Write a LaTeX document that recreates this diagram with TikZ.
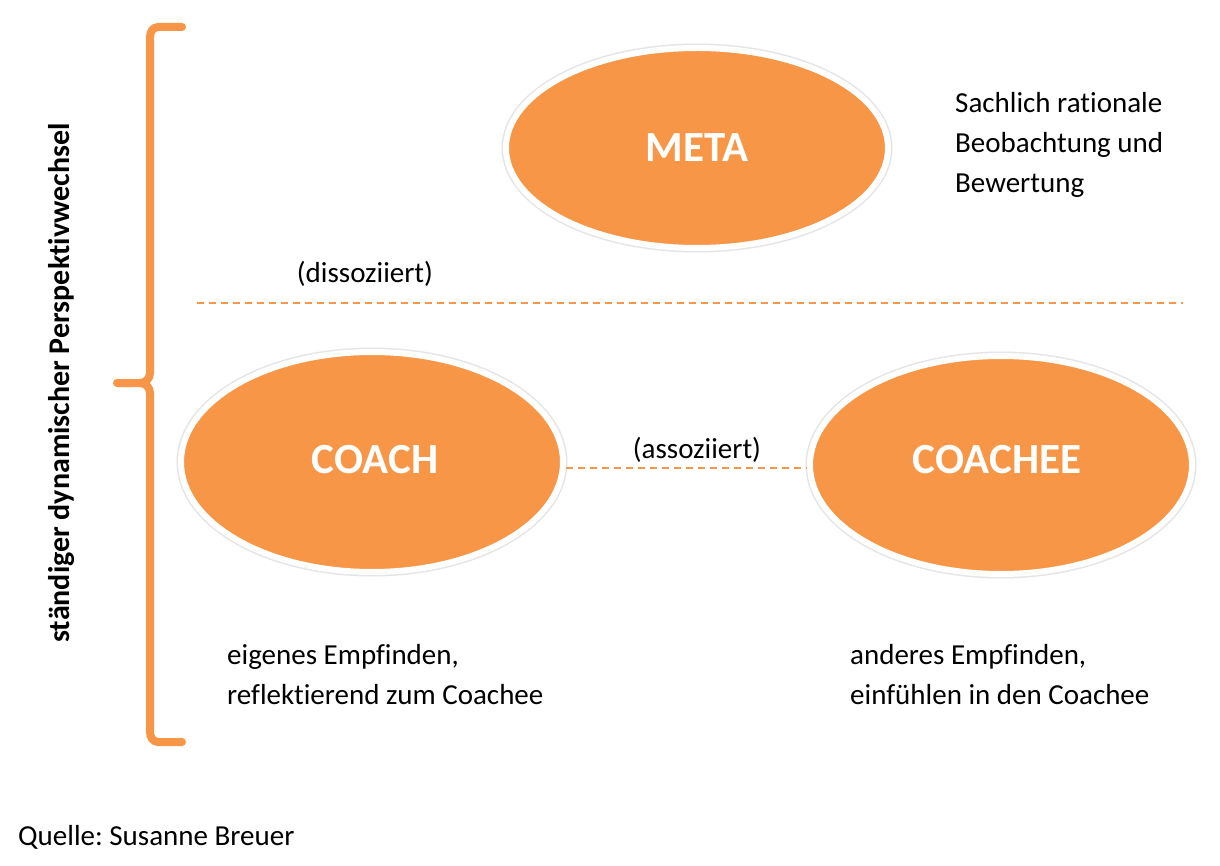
\documentclass[tikz,border=0pt]{standalone}
\usepackage{fontspec}
\setmainfont{Carlito}[Ligatures=NoCommon]
\frenchspacing
\usetikzlibrary{shadows,shapes.geometric}
\definecolor{acc}{HTML}{F79646}
\begin{document}
\begin{tikzpicture}[x=1pt,y=-1pt,
  oval/.style={ellipse,fill=acc,draw=white,line width=6pt,minimum width=380pt,minimum height=200pt,
    font=\fontsize{43}{48}\selectfont\bfseries,text=white,inner sep=0pt,
    preaction={draw=black!10,line width=9pt}},
  body/.style={font=\fontsize{29}{40}\selectfont,align=left,anchor=north west,inner sep=0pt},
  lab/.style={font=\fontsize{29}{34}\selectfont,inner sep=0pt},
  dline/.style={draw=acc,line width=1.6pt,dash pattern=on 7pt off 5pt},
  brace/.style={draw=acc,line width=8pt,line cap=round,line join=round}]
\useasboundingbox[fill=white] (0,0) rectangle (1220,866);
\node[oval,minimum width=382pt,minimum height=200pt] (meta) at (697,148) {META};
\node[oval,minimum width=382pt,minimum height=220pt] (coach) at (372,462) {};
\node[oval,minimum width=382pt,minimum height=218pt] (coachee) at (1001,465) {};
\node[font=\fontsize{43}{48}\selectfont\bfseries,text=white] (coacht) at (375,460) {COACH};
\node[font=\fontsize{43}{48}\selectfont\bfseries,text=white] (coacheet) at (997,460) {COACHEE};
\coordinate (dl) at (197,303);
\coordinate (dr) at (1183,303);
\draw[dline] (dl) -- (dr);
\draw[dline] (coach.east |- 0,468) -- (coachee.west |- 0,468);
\node[lab] (diss) at (365,274) {(dissoziiert)};
\node[lab] (asso) at (697,450) {(assoziiert)};
\node[body] (t1) at (955,92) {Sachlich rationale\\Beobachtung und\\Bewertung};
\node[body] (t2) at (227,644) {eigenes Empfinden,\\reflektierend zum Coachee};
\node[body] (t3) at (850,644) {anderes Empfinden,\\einfühlen in den Coachee};
\node[lab,anchor=west] (src) at (18,837) {Quelle: Susanne Breuer};
\coordinate (bt) at (182,27);
\coordinate (bm) at (117,383);
\coordinate (bb) at (182,742);
\draw[brace] (bt) -- (158,27) to[out=180,in=90] (150,37) -- (150,373) to[out=-90,in=0] (140,383) -- (bm);
\draw[brace] (bb) -- (158,742) to[out=180,in=-90] (150,732) -- (150,393) to[out=90,in=0] (140,383);
\node[lab,font=\fontsize{30}{34}\selectfont\bfseries,rotate=90] (persp) at (62,383) {ständiger dynamischer Perspektivwechsel};
\end{tikzpicture}
\end{document}
